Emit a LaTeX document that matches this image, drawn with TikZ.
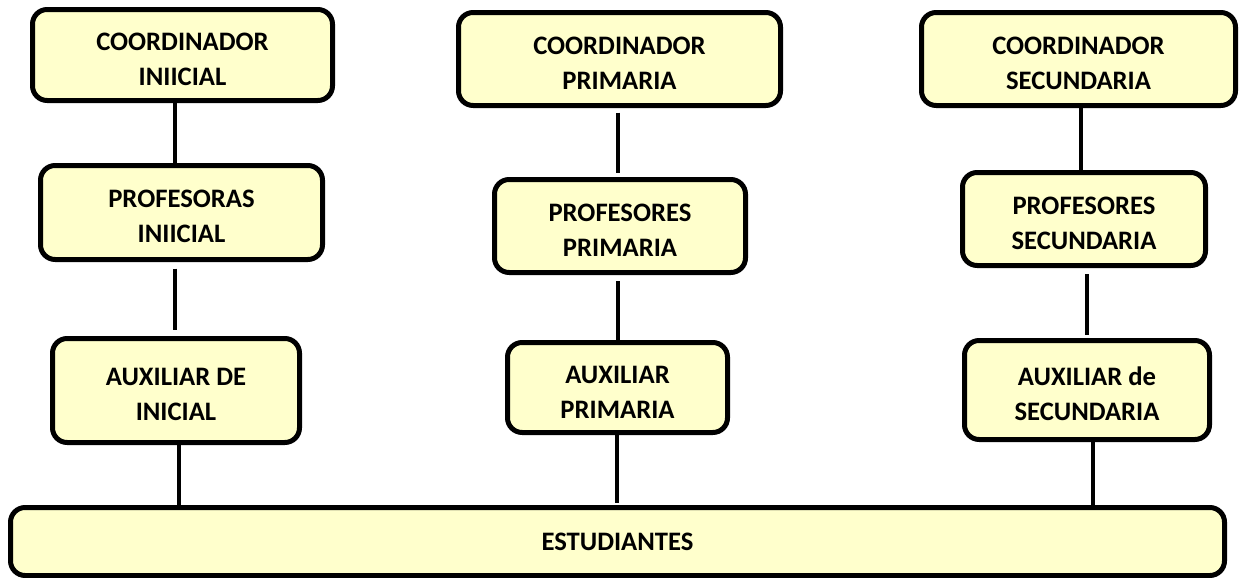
\documentclass[tikz,border=0pt]{standalone}
\usepackage{fontspec}
\setmainfont{Carlito}
\definecolor{boxfill}{HTML}{FFFFCC}
\newcommand\liftline{\rule{0pt}{19.5pt}}
\begin{document}
\begin{tikzpicture}[x=0.75pt,y=-0.75pt,
  orgbox/.style={draw=black,fill=boxfill,line width=3.75pt,rounded corners=11pt,
    inner sep=0pt,align=center,font=\fontsize{20}{26.25}\selectfont\bfseries},
  conn/.style={draw=black,line width=2.6pt}]
\useasboundingbox (0,0) rectangle (1240,578);
% boxes (centre, size in px minus border)
\node[orgbox,minimum width=300*0.75pt,minimum height=91*0.75pt] (CI) at (182.5,55) {\liftline COORDINADOR\\INIICIAL};
\node[orgbox,minimum width=282*0.75pt,minimum height=94*0.75pt] (PI) at (181.5,212.5) {\liftline PROFESORAS\\INIICIAL};
\node[orgbox,minimum width=247*0.75pt,minimum height=104*0.75pt] (AI) at (176,390.5) {\liftline AUXILIAR DE\\INICIAL};
\node[orgbox,minimum width=322*0.75pt,minimum height=93*0.75pt] (CP) at (619.5,59) {\liftline COORDINADOR\\PRIMARIA};
\node[orgbox,minimum width=251*0.75pt,minimum height=93*0.75pt] (PP) at (620,226) {\liftline PROFESORES\\PRIMARIA};
\node[orgbox,minimum width=220*0.75pt,minimum height=90*0.75pt] (AP) at (617.5,387.5) {\liftline AUXILIAR\\PRIMARIA};
\node[orgbox,minimum width=314*0.75pt,minimum height=93*0.75pt] (CS) at (1078.5,59) {\liftline COORDINADOR\\SECUNDARIA};
\node[orgbox,minimum width=243*0.75pt,minimum height=93*0.75pt] (PS) at (1084,219) {\liftline PROFESORES\\SECUNDARIA};
\node[orgbox,minimum width=245*0.75pt,minimum height=99*0.75pt] (AS) at (1087,390) {\liftline AUXILIAR de\\SECUNDARIA};
\node[orgbox,minimum width=1214*0.75pt,minimum height=68*0.75pt] (E) at (617.5,541.5) {ESTUDIANTES};
% connector x positions
\coordinate (xa) at (175,0);
\coordinate (xb) at (179,0);
\coordinate (xc) at (618,0);
\coordinate (xd) at (617,0);
\coordinate (xe) at (1081,0);
\coordinate (xf) at (1087,0);
\coordinate (xg) at (1093,0);
% connectors
\draw[conn] (CI.south -| xa) -- (PI.north -| xa);
\draw[conn,shorten <=5pt,shorten >=4.5pt] (PI.south -| xa) -- (AI.north -| xa);
\draw[conn] (AI.south -| xb) -- (E.north -| xb);
\draw[conn,shorten <=3.5pt,shorten >=3pt] (CP.south -| xc) -- (PP.north -| xc);
\draw[conn,shorten <=4.5pt] (PP.south -| xc) -- (AP.north -| xc);
\draw[conn,shorten >=1.5pt] (AP.south -| xd) -- (E.north -| xd);
\draw[conn] (CS.south -| xe) -- (PS.north -| xe);
\draw[conn,shorten <=4.5pt,shorten >=2pt] (PS.south -| xf) -- (AS.north -| xf);
\draw[conn] (AS.south -| xg) -- (E.north -| xg);
\end{tikzpicture}
\end{document}
